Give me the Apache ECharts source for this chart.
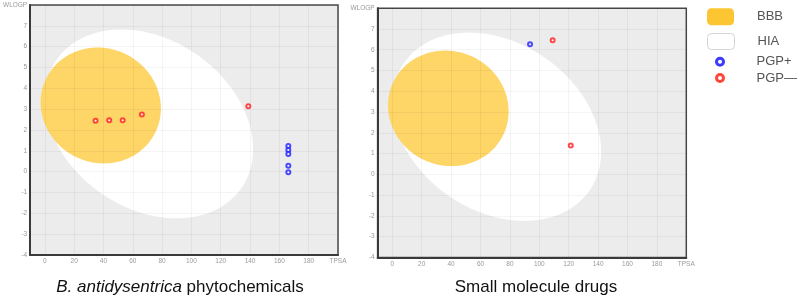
<!DOCTYPE html>
<html>
<head>
<meta charset="utf-8">
<script src="https://cdn.jsdelivr.net/npm/echarts@6/dist/echarts.min.js"></script>
<style>html,body{margin:0;padding:0;background:#fff}#c{width:800px;height:302px}</style>
</head>
<body>
<div id="c"></div>
<script>
// ---- data ----
const tpsaTicks = [0, 20, 40, 60, 80, 100, 120, 140, 160, 180, 200];
const wlogpTicks = [-4, -3, -2, -1, 0, 1, 2, 3, 4, 5, 6, 7, 8];
// ellipse parameters: [centre TPSA, centre WLOGP, TPSA axis, WLOGP axis, rotation]
const bbbEllipse = [38.117, 3.177, 82.061, 5.557, -0.0035];
const hiaEllipse = [71.051, 2.292, 142.081, 8.740, -0.017];
// B. antidysentrica phytochemicals
const leftPlusTPSA = [166.1, 166.1, 166.1, 166.1, 166.1];
const leftPlusWLOGP = [1.23, 1.04, 0.85, 0.29, -0.03];
const leftMinusTPSA = [34.6, 43.9, 53.1, 66.2, 138.8];
const leftMinusWLOGP = [2.45, 2.47, 2.47, 2.74, 3.14];
// Small molecule drugs
const rightPlusTPSA = [93.7];
const rightPlusWLOGP = [6.27];
const rightMinusTPSA = [109.1, 121.4];
const rightMinusWLOGP = [6.46, 1.39];
const titles = ['B. antidysentrica', ' phytochemicals', 'Small molecule drugs'];

const zip = (a, b) => a.map((v, i) => [v, b[i]]);
const FONT = '"Liberation Sans", Arial, sans-serif';
const RED = '#ff1f1f', BLUE = '#1f1fff';
const GRIDLINE = 'rgba(0,0,0,0.045)';

function ellipseItem(params, api) {
  const cx = api.value(0), cy = api.value(1), a = api.value(2) / 2, b = api.value(3) / 2, th = api.value(4);
  const pts = [];
  for (let i = 0; i < 180; i++) {
    const t = i / 180 * Math.PI * 2;
    const dx = a * Math.cos(t), dy = b * Math.sin(t);
    pts.push(api.coord([cx + dx * Math.cos(th) - dy * Math.sin(th), cy + dx * Math.sin(th) + dy * Math.cos(th)]));
  }
  return { type: 'polygon', shape: { points: pts }, style: { fill: api.visual('color') } };
}

function xAxis(gi) {
  return {
    type: 'value', gridIndex: gi, min: -10, max: 200, z: 2,
    axisLine: { show: true, onZero: false, lineStyle: { color: '#3a3a3a', width: 2 } },
    axisTick: { show: false, customValues: tpsaTicks },
    axisLabel: { customValues: tpsaTicks, fontSize: 6.5, color: '#999', margin: 3, fontFamily: FONT,
      formatter: v => v === 200 ? 'TPSA' : String(v) },
    splitLine: { show: true, lineStyle: { color: GRIDLINE, width: 1 } }
  };
}
function yAxis(gi) {
  return {
    type: 'value', gridIndex: gi, min: -4, max: 8, interval: 1, z: 2,
    axisLine: { show: true, onZero: false, lineStyle: { color: '#3a3a3a', width: 2 } },
    axisTick: { show: false },
    axisLabel: { fontSize: 6.5, color: '#999', margin: 3, fontFamily: FONT,
      formatter: v => v === 8 ? 'WLOGP' : String(v) },
    splitLine: { show: true, lineStyle: { color: GRIDLINE, width: 1 } }
  };
}
function seriesFor(gi, plusT, plusW, minusT, minusW) {
  return [
    { name: 'HIA', type: 'custom', xAxisIndex: gi, yAxisIndex: gi, z: 1, silent: true,
      itemStyle: { color: '#ffffff' }, renderItem: ellipseItem, data: [hiaEllipse], encode: { x: 0, y: 1 } },
    { name: 'BBB', type: 'custom', xAxisIndex: gi, yAxisIndex: gi, z: 1.2, silent: true,
      itemStyle: { color: '#fed567' }, renderItem: ellipseItem, data: [bbbEllipse], encode: { x: 0, y: 1 } },
    { name: 'PGP+', type: 'scatter', xAxisIndex: gi, yAxisIndex: gi, z: 3, symbol: 'emptyCircle', symbolSize: 4,
      itemStyle: { color: BLUE, borderWidth: 1.4 }, data: zip(plusT, plusW) },
    { name: 'PGP\u2014', type: 'scatter', xAxisIndex: gi, yAxisIndex: gi, z: 3, symbol: 'emptyCircle', symbolSize: 4,
      itemStyle: { color: RED, borderWidth: 1.4 }, data: zip(minusT, minusW) }
  ];
}
function legendFor(item, left, top) {
  return {
    left: left, top: top, padding: 0, orient: 'vertical', selectedMode: false,
    itemWidth: 27, itemHeight: item.h,
    textStyle: { fontSize: 13, color: '#555', fontFamily: FONT, padding: [0, 0, 0, 18] },
    data: [item.d]
  };
}

const chart = echarts.init(document.getElementById('c'), null, { renderer: 'canvas' });
chart.setOption({
  animation: false,
  backgroundColor: '#ffffff',
  title: [
    { text: '{i|' + titles[0] + '}{n|' + titles[1] + '}', left: 180, top: 279, textAlign: 'center', padding: 0,
      textStyle: { fontWeight: 'normal', rich: {
        i: { fontSize: 17, fontStyle: 'italic', fontWeight: 'normal', color: '#111', fontFamily: FONT },
        n: { fontSize: 17, fontWeight: 'normal', color: '#111', fontFamily: FONT } } } },
    { text: titles[2], left: 536, top: 279, textAlign: 'center', padding: 0,
      textStyle: { fontSize: 17, fontWeight: 'normal', color: '#111', fontFamily: FONT } }
  ],
  grid: [
    { left: 28.3, top: 5, width: 309.7, height: 250, show: true, backgroundColor: '#ececec', borderColor: '#4a4a4a', borderWidth: 1.5, containLabel: false },
    { left: 377.6, top: 8.2, width: 308.7, height: 249.2, show: true, backgroundColor: '#ececec', borderColor: '#4a4a4a', borderWidth: 1.5, containLabel: false }
  ],
  xAxis: [xAxis(0), xAxis(1)],
  yAxis: [yAxis(0), yAxis(1)],
  legend: [
    legendFor({ h: 17, d: { name: 'BBB', icon: 'roundRect', itemStyle: { color: '#fcc633', borderWidth: 0 } } }, 707, 8.2),
    legendFor({ h: 16, d: { name: 'HIA', icon: 'roundRect', itemStyle: { color: '#ffffff', borderColor: '#d4d4d4', borderWidth: 1 } } }, 707, 33),
    legendFor({ h: 7, d: { name: 'PGP+', icon: 'circle', itemStyle: { color: '#ffffff', borderColor: '#0a0aff', borderWidth: 3 } } }, 715, 55.2),
    legendFor({ h: 7, d: { name: 'PGP\u2014', icon: 'circle', itemStyle: { color: '#ffffff', borderColor: '#ff1a0a', borderWidth: 3 } } }, 715, 71.5)
  ],
  series: [].concat(
    seriesFor(0, leftPlusTPSA, leftPlusWLOGP, leftMinusTPSA, leftMinusWLOGP),
    seriesFor(1, rightPlusTPSA, rightPlusWLOGP, rightMinusTPSA, rightMinusWLOGP)
  )
});
</script>
</body>
</html>
